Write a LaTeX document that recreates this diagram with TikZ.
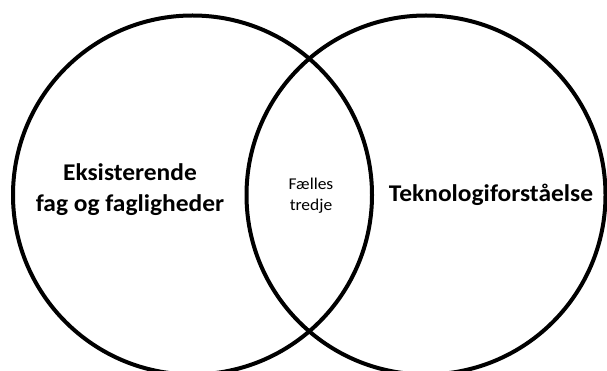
\documentclass[tikz,border=0pt]{standalone}
\usepackage{fontspec}
\setmainfont[FakeStretch=1.06]{Carlito}
\usepackage{tikz}
\tikzset{
	venn/.style = {circle, draw=black, line width=4pt, minimum size=359pt,
		inner sep=0pt},
	bigtxt/.style = {align=center, inner sep=0pt,
		font=\fontsize{24}{31}\selectfont\bfseries},
	smalltxt/.style = {align=center, inner sep=0pt,
		font=\fontsize{16.5}{21}\selectfont}
}
\begin{document}
\begin{tikzpicture}[x=1pt,y=-1pt]
\useasboundingbox (0,0) rectangle (607,371);
\clip (0,0) rectangle (607,371);
\node [venn] (fag) at (192.5,195) {};
\node [venn] (tek) at (426,195) {};
\node [bigtxt, anchor=base] (fagtxt) at (130,212) {Eksisterende\\fag og fagligheder};
\node [bigtxt, anchor=base] (tektxt) at (491,202) {Teknologiforståelse};
\node [smalltxt, anchor=base] (faelles) at (311,211) {Fælles\\tredje};
\end{tikzpicture}
\end{document}
